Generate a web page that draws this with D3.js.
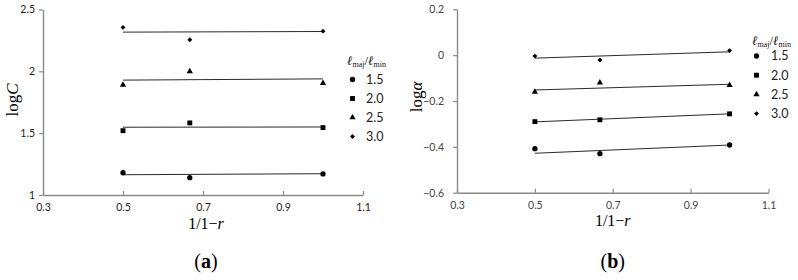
<!DOCTYPE html>
<html><head><meta charset="utf-8">
<script src="https://cdn.jsdelivr.net/npm/d3@7"></script>
<style>
html,body{margin:0;padding:0;background:#fff;}
svg{display:block;}
</style></head>
<body>
<svg id="c" width="798" height="280"></svg>
<script>
// ---- data ----
const xVals = [0.5, 0.667, 1.0];
const ratios = ["1.5", "2.0", "2.5", "3.0"];
const xTicks = [0.3, 0.5, 0.7, 0.9, 1.1];
const yTicksA = [1, 1.5, 2, 2.5];
const yTicksB = [-0.6, -0.4, -0.2, 0, 0.2];
// panel (a): log C
const logC_15 = [1.18, 1.14, 1.17];
const logC_20 = [1.52, 1.583, 1.545];
const logC_25 = [1.89, 2.0, 1.905];
const logC_30 = [2.355, 2.255, 2.325];
// trend line values at x = 0.5 and x = 1.0 (panel a)
const trendX = [0.5, 1.0];
const trendC_15 = [1.164, 1.172];
const trendC_20 = [1.548, 1.55];
const trendC_25 = [1.929, 1.939];
const trendC_30 = [2.317, 2.322];
// panel (b): log alpha
const logA_15 = [-0.408, -0.43, -0.392];
const logA_20 = [-0.29, -0.282, -0.256];
const logA_25 = [-0.16, -0.12, -0.131];
const logA_30 = [-0.004, -0.021, 0.02];
const trendA_15 = [-0.428, -0.392];
const trendA_20 = [-0.291, -0.256];
const trendA_25 = [-0.152, -0.127];
const trendA_30 = [-0.013, 0.0145];

const seriesA = [logC_15, logC_20, logC_25, logC_30];
const trendsA = [trendC_15, trendC_20, trendC_25, trendC_30];
const seriesB = [logA_15, logA_20, logA_25, logA_30];
const trendsB = [trendA_15, trendA_20, trendA_25, trendA_30];

const symbols = [d3.symbolCircle, d3.symbolSquare, d3.symbolTriangle, d3.symbolDiamond2];
const symSizes = [22, 24, 17, 15];

const svg = d3.select("#c");
const axisColor = "#8a8a8a";
const tickFont = "Lato, 'Open Sans', sans-serif";
const serif = "'Liberation Serif', 'Times New Roman', serif";

function panel(cfg){
  const g = svg.append("g");
  const x = d3.scaleLinear().domain([0.3,1.1]).range(cfg.xr);
  const y = d3.scaleLinear().domain(cfg.yd).range(cfg.yr);

  const xa = g.append("g").attr("transform",`translate(0,${cfg.yr[0]})`)
    .call(d3.axisBottom(x).tickValues(xTicks).tickSizeInner(-4).tickSizeOuter(0).tickPadding(9).tickFormat(d3.format(".1f")));
  xa.select(".domain").attr("stroke",axisColor).attr("stroke-width",1.4);
  xa.selectAll(".tick line").attr("stroke",axisColor).attr("stroke-width",1.2);
  xa.selectAll(".tick text").attr("font-family",tickFont).attr("font-size",cfg.tickSize).attr("fill",cfg.tickFill);

  const ya = g.append("g").attr("transform",`translate(${cfg.xr[0]},0)`)
    .call(d3.axisLeft(y).tickValues(cfg.yTicks).tickSizeInner(4).tickSizeOuter(0).tickPadding(cfg.yPad).tickFormat(cfg.fmt));
  ya.select(".domain").attr("stroke",axisColor).attr("stroke-width",1.4);
  ya.selectAll(".tick line").attr("stroke",axisColor).attr("stroke-width",1.2);
  ya.selectAll(".tick text").attr("font-family",tickFont).attr("font-size",cfg.tickSize).attr("fill",cfg.tickFill);

  const line = d3.line().x((d,i)=>x(trendX[i])).y(d=>y(d));
  cfg.trends.forEach(t=>{
    g.append("path").attr("d",line(t)).attr("fill","none").attr("stroke","#2a2a2a").attr("stroke-width",1);
  });
  cfg.series.forEach((s,si)=>{
    g.selectAll(null).data(s).enter().append("path")
      .attr("d",d3.symbol().type(symbols[si]).size(symSizes[si]))
      .attr("transform",(d,i)=>`translate(${x(xVals[i])},${y(d)})`)
      .attr("fill","#000");
  });

  const yl = g.append("text").attr("transform",`translate(${cfg.ylx},${cfg.yly}) rotate(-90)`)
    .attr("text-anchor","middle").attr("font-family",serif).attr("font-size",17).attr("fill","#000");
  yl.append("tspan").text("log");
  yl.append("tspan").attr("font-style","italic").text(cfg.ySym);

  const cx = (cfg.xr[0]+cfg.xr[1])/2 + cfg.xlOff;
  const xl = g.append("text").attr("x",cx).attr("y",cfg.xly).attr("text-anchor","middle")
    .attr("font-family",serif).attr("font-size",16).attr("fill","#000");
  xl.append("tspan").text("1/1−");
  xl.append("tspan").attr("font-style","italic").text("r");

  const pl = g.append("text").attr("x",cx).attr("y",cfg.ply).attr("text-anchor","middle")
    .attr("font-family",serif).attr("font-size",20).attr("fill","#000");
  pl.append("tspan").text("(");
  pl.append("tspan").attr("font-weight","bold").text(cfg.letter);
  pl.append("tspan").text(")");

  const lg = g.append("g");
  const lt = lg.append("text").attr("x",cfg.lgx).attr("y",cfg.lgy).attr("font-family",serif).attr("font-size",13).attr("fill","#111");
  lt.append("tspan").attr("font-style","italic").text("ℓ");
  lt.append("tspan").attr("font-size",8).attr("dy",2).text("maj");
  lt.append("tspan").attr("font-size",13).attr("dy",-2).text("/");
  lt.append("tspan").attr("font-style","italic").text("ℓ");
  lt.append("tspan").attr("font-size",8).attr("dy",2).text("min");
  ratios.forEach((r,i)=>{
    const yy = cfg.lgRow0 + i*cfg.lgStep;
    lg.append("path").attr("d",d3.symbol().type(symbols[i]).size(symSizes[i]))
      .attr("transform",`translate(${cfg.lmx},${yy})`).attr("fill","#000");
    lg.append("text").attr("x",cfg.ltx).attr("y",yy).attr("dy","0.35em")
      .attr("font-family",tickFont).attr("font-size",cfg.legSize).attr("fill","#222").text(r);
  });
}

panel({
  xr:[43,363], yd:[1,2.5], yr:[195,9.5], yTicks:yTicksA, yPad:4,
  fmt:d=>String(d), series:seriesA, trends:trendsA, ySym:"C",
  ylx:18, yly:100, xlOff:3, xly:229, ply:268, letter:"a",
  lgx:347, lgy:65, lgRow0:79.5, lgStep:19, lmx:352.5, ltx:366,
  tickSize:10.5, tickFill:"#222", legSize:12.5
});
panel({
  xr:[457,768.5], yd:[-0.6,0.2], yr:[192.7,9.3], yTicks:yTicksB, yPad:9,
  fmt:d=>d3.format(".1f")(d).replace("-","−").replace(/^0\.0$/,"0").replace("−0.0","0"), series:seriesB, trends:trendsB, ySym:"α",
  ylx:422, yly:97, xlOff:0, xly:226, ply:268, letter:"b",
  lgx:752, lgy:45, lgRow0:56, lgStep:19.2, lmx:756.5, ltx:771,
  tickSize:10.5, tickFill:"#444", legSize:12.5
});
</script>
</body></html>
